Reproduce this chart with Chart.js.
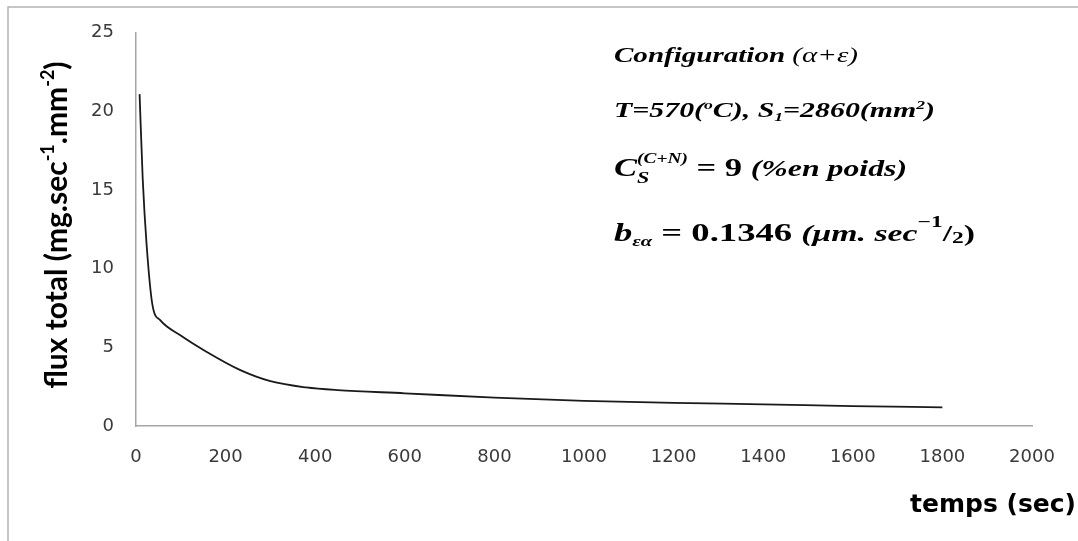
<!DOCTYPE html>
<html>
<head>
<meta charset="utf-8">
<script src="https://cdn.jsdelivr.net/npm/chart.js@4.4.1/dist/chart.umd.min.js"></script>
<style>
    html, body { margin: 0; padding: 0; background: #fff; }
    #wrap { width: 1078px; height: 541px; position: relative; }
</style>
</head>
<body>
<div id="wrap"><canvas id="fluxChart"></canvas></div>
<script>
// Values
const timeSec = [8, 15, 24, 37, 54, 99, 158, 233, 300, 380, 450, 600, 800, 1000, 1200, 1400, 1600, 1800];
const fluxTotal = [21.1, 15.7, 11.4, 7.65, 6.73, 5.77, 4.71, 3.55, 2.85, 2.45, 2.28, 2.08, 1.8, 1.6, 1.47, 1.38, 1.27, 1.19];
const xTicks = [0, 200, 400, 600, 800, 1000, 1200, 1400, 1600, 1800, 2000];
const yTicks = [0, 5, 10, 15, 20, 25];

const axisGray = '#a6a6a6';
const tickColor = '#3a3a3a';
const serif = '"Liberation Serif", "DejaVu Serif", serif';
const sans = 'Lato, "Open Sans", sans-serif';

// draws a run of text pieces, each with its own font and vertical shift
function drawRun(ctx, x, y, parts) {
    let cx = x;
    parts.forEach(p => {
        ctx.font = p.font;
        ctx.fillText(p.t, cx, y + (p.dy || 0));
        if (!p.stay) cx += ctx.measureText(p.t).width;
    });
    return cx;
}

function runWidth(ctx, parts) {
    let w = 0;
    parts.forEach(p => { ctx.font = p.font; if (!p.stay) w += ctx.measureText(p.t).width; });
    return w;
}

// the reference text is stretched sideways, so each line is fitted to its width
function drawFitted(ctx, x, y, width, parts) {
    const s = width / runWidth(ctx, parts);
    ctx.save();
    ctx.translate(x, y);
    ctx.scale(s, 1);
    drawRun(ctx, 0, 0, parts);
    ctx.restore();
}

const textPlugin = {
    id: 'textPlugin',
    beforeDraw(chart) {
        const ctx = chart.ctx;
        ctx.save();
        ctx.fillStyle = '#fff';
        ctx.fillRect(0, 0, chart.width, chart.height);
        ctx.strokeStyle = '#b4b4b4';
        ctx.lineWidth = 1.5;
        ctx.strokeRect(8, 7, 1100, 560);
        ctx.restore();
    },
    afterDraw(chart) {
        const ctx = chart.ctx;
        ctx.save();
        ctx.fillStyle = '#000';
        ctx.textBaseline = 'alphabetic';
        ctx.textAlign = 'left';

        // y axis title, rotated
        const yb = 'bold 30px ' + sans;
        const ys = 'bold 18px ' + sans;
        const yParts = [
            { t: 'flux total (mg.sec', font: yb },
            { t: '-1', font: ys, dy: -13 },
            { t: '.mm', font: yb },
            { t: '-2', font: ys, dy: -13 },
            { t: ')', font: yb }
        ];
        ctx.save();
        ctx.translate(67, 225);
        ctx.rotate(-Math.PI / 2);
        drawRun(ctx, -runWidth(ctx, yParts) / 2, 0, yParts);
        ctx.restore();

        // x axis title
        ctx.font = 'bold 25px "DejaVu Sans", sans-serif';
        ctx.textAlign = 'right';
        ctx.fillText('temps (sec)', 1076, 512);
        ctx.textAlign = 'left';

        // annotation block
        const bi = 'italic bold 22px ' + serif;
        const it = 'italic 22px ' + serif;
        const small = 'italic bold 13px ' + serif;
        const x0 = 614;
        drawFitted(ctx, x0, 62, 244, [
            { t: 'Configuration ', font: bi },
            { t: '(α+ε)', font: it }
        ]);
        drawFitted(ctx, x0, 117, 321, [
            { t: 'T=570(', font: bi },
            { t: 'o', font: small, dy: -8 },
            { t: 'C), S', font: bi },
            { t: '1', font: small, dy: 4 },
            { t: '=2860(mm', font: bi },
            { t: '2', font: small, dy: -8 },
            { t: ')', font: bi }
        ]);
        drawFitted(ctx, x0, 176, 293, [
            { t: 'C', font: 'italic bold 25px ' + serif },
            { t: 'S', font: 'italic bold 16px ' + serif, dy: 7, stay: true },
            { t: '(C+N)', font: 'italic bold 14px ' + serif, dy: -13 },
            { t: ' = 9 ', font: 'bold 25px ' + serif },
            { t: '(%en poids)', font: 'italic bold 23px ' + serif }
        ]);
        drawFitted(ctx, x0, 241, 361, [
            { t: 'b', font: 'italic bold 25px ' + serif },
            { t: 'εα', font: 'italic bold 14px ' + serif, dy: 5 },
            { t: ' = 0.1346 ', font: 'bold 25px ' + serif },
            { t: '(μm. sec', font: 'italic bold 23px ' + serif },
            { t: '−1', font: 'bold 16px ' + serif, dy: -14 },
            { t: '/', font: 'bold 23px ' + serif },
            { t: '2', font: 'bold 16px ' + serif, dy: 2 },
            { t: ')', font: 'bold 23px ' + serif }
        ]);
        ctx.restore();
    }
};

new Chart(document.getElementById('fluxChart'), {
    type: 'scatter',
    data: {
        datasets: [{
            label: 'flux total',
            data: timeSec.map((t, i) => ({ x: t, y: fluxTotal[i] })),
            showLine: true,
            borderColor: '#1a1a1a',
            borderWidth: 1.8,
            pointRadius: 0,
            cubicInterpolationMode: 'monotone'
        }]
    },
    options: {
        responsive: true,
        maintainAspectRatio: false,
        animation: false,
        layout: { padding: { left: 0, right: 46, top: 32, bottom: 0 } },
        plugins: {
            legend: { display: false },
            tooltip: { enabled: false }
        },
        scales: {
            x: {
                type: 'linear',
                min: 0,
                max: 2000,
                afterBuildTicks: (s) => { s.ticks = xTicks.map(v => ({ value: v })); },
                afterFit: (s) => { s.height = 115; },
                grid: { display: false, drawTicks: false },
                border: { display: true, color: axisGray, width: 1.5 },
                ticks: {
                    color: tickColor, padding: 21, maxRotation: 0,
                    font: { family: '"DejaVu Sans", sans-serif', size: 18 },
                    callback: (v) => String(v)
                }
            },
            y: {
                min: 0,
                max: 25,
                afterBuildTicks: (s) => { s.ticks = yTicks.map(v => ({ value: v })); },
                afterFit: (s) => { s.width = 136; },
                grid: { display: false, drawTicks: false },
                border: { display: true, color: axisGray, width: 1.5 },
                ticks: {
                    color: tickColor, padding: 22,
                    font: { family: '"DejaVu Sans", sans-serif', size: 18 },
                    callback: (v) => String(v)
                }
            }
        }
    },
    plugins: [textPlugin]
});
</script>
</body>
</html>
